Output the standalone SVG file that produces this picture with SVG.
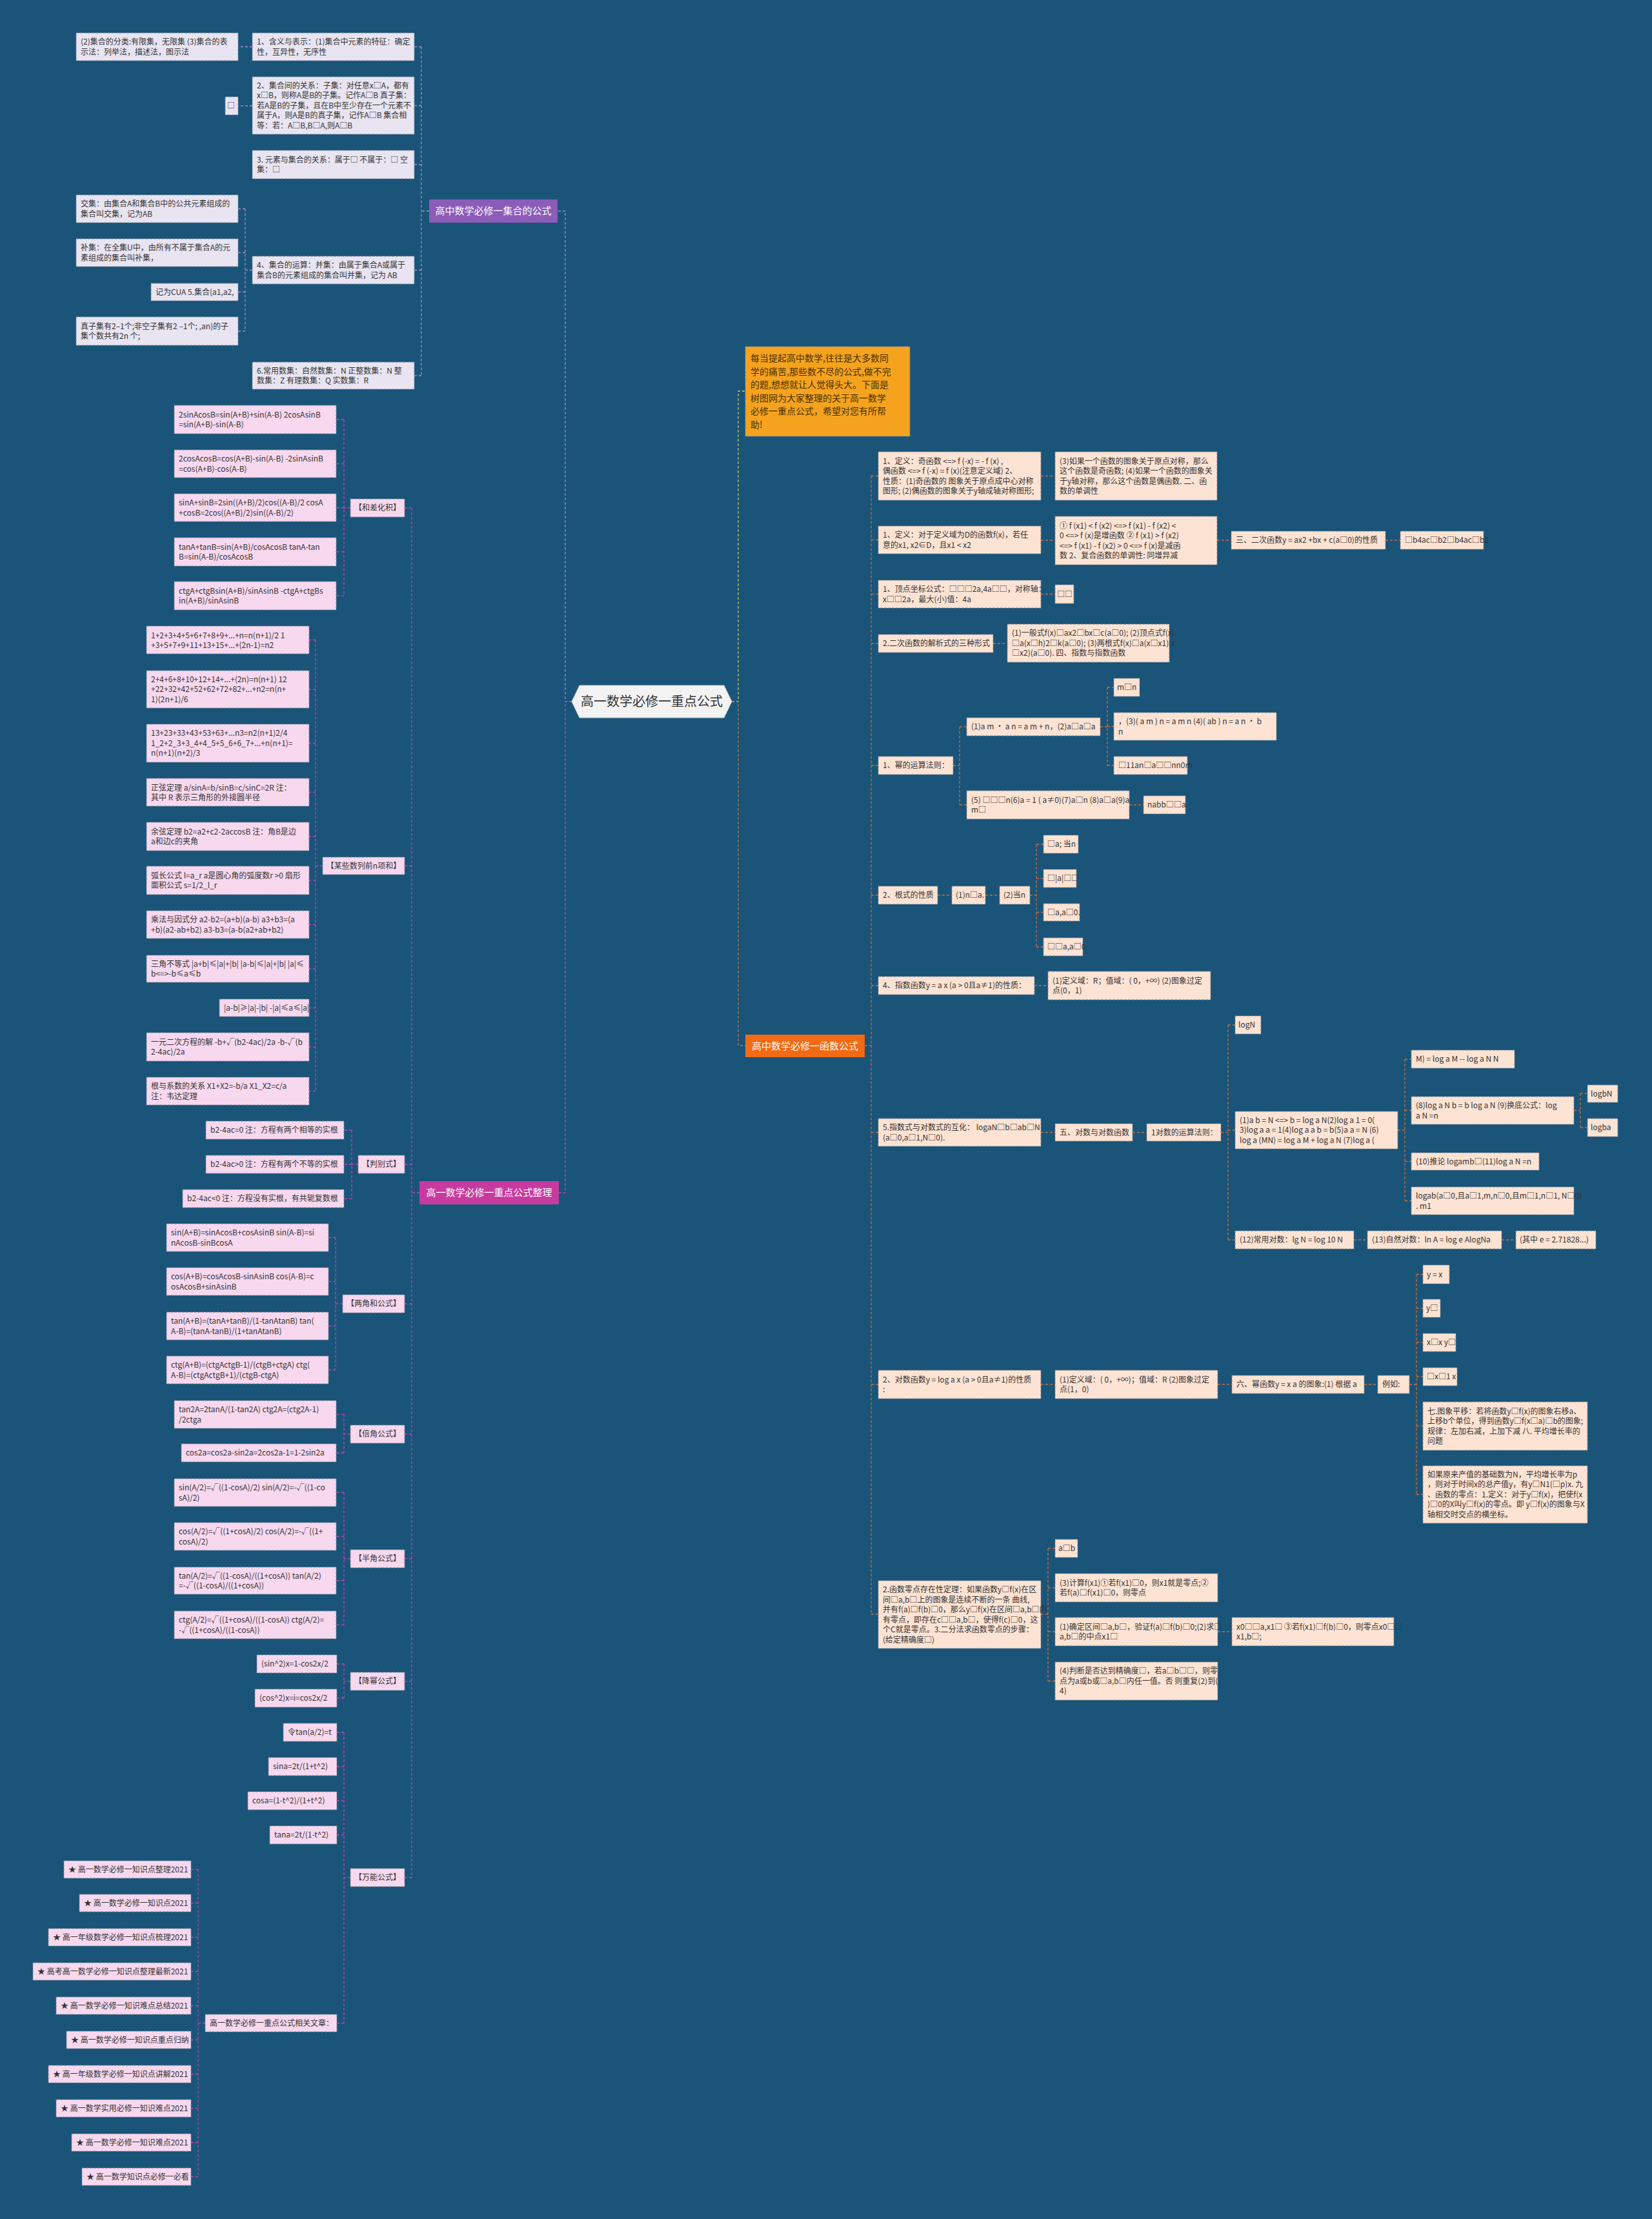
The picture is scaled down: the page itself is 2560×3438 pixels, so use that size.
<svg xmlns="http://www.w3.org/2000/svg" width="2560" height="3438" viewBox="0 0 2560 3438">
<style>
text{font-family:"Noto Sans CJK SC","Noto Sans",sans-serif;font-size:12px;fill:#333}
.bx{stroke:#7d8796;stroke-width:1;stroke-dasharray:4 2}
.b1{fill:#e8e4f1}
.b2{fill:#f7d8ee}
.b3{fill:#fde3d3}
.w{fill:#fff;font-size:15px;text-anchor:middle}
.c{text-anchor:middle}
.cn{fill:none;stroke-width:1.3;stroke-dasharray:4 3}
.cs{stroke:#a98bd3}
.cm{stroke:#c93fae}
.cf{stroke:#c8703c}
.ci{stroke:#d9c24a}
</style>
<rect width="2560" height="3438" fill="#1a5479"/>

<g id="connectors">
<path class="cn ci" d="M1134 1087H1144V606H1155"/>
<path class="cn cf" d="M1134 1087H1144V1620H1155"/>
<path class="cn cf" d="M1340 1620H1350M1350 737.5V2501M1350 737.5H1361M1350 836.5H1361M1350 920.5H1361M1350 997H1361M1350 1186H1361M1350 1387H1361M1350 1527H1361M1350 1754.5H1361M1350 2145H1361M1350 2501H1361"/>
<path class="cn cf" d="M1613 737.5H1635M1613 837H1635M1886 837H1908M2147 837H2170M1613 920.5H1635M1539 997H1561"/>
<path class="cn cf" d="M1477 1186H1487M1487 1126V1247M1487 1126H1498M1487 1247H1498M1705 1126H1716M1716 1065V1186M1716 1065H1726M1716 1125.5H1726M1716 1186H1726M1750 1247H1772"/>
<path class="cn cf" d="M1453 1387H1475M1527 1387H1549M1596 1387H1606M1606 1308V1467M1606 1308H1617M1606 1361H1617M1606 1413.5H1617M1606 1467H1617M1603 1527H1624"/>
<path class="cn cf" d="M1613 1754.5H1635M1755 1754.5H1777M1892 1754.5H1903M1903 1588V1921M1903 1588H1914M1903 1751H1914M1903 1921H1914M2166 1751H2177M2177 1641V1860.5M2177 1641H2187M2177 1720.5H2187M2177 1799.5H2187M2177 1860.5H2187M2439 1720.5H2449M2449 1694V1747M2449 1694H2460M2449 1747H2460M2098 1921H2119M2327 1921H2349"/>
<path class="cn cf" d="M1613 2145H1635M1887 2145H1909M2114 2145H2135M2184 2145H2195M2195 1974.5V2315.5M2195 1974.5H2205M2195 2027H2205M2195 2080H2205M2195 2133H2205M2195 2209.5H2205M2195 2315.5H2205"/>
<path class="cn cf" d="M1613 2501H1624M1624 2399V2604.5M1624 2399H1635M1624 2460H1635M1624 2528H1635M1624 2604.5H1635M1887 2528H1909"/>
<path class="cn cs" d="M886 1087H876V327H864M665 327H653M653 72.5V582M653 72.5H642M653 163.5H642M653 255H642M653 418.5H642M653 582H642M391 72.5H369M391 164H369M391 418.5H380M380 323.5V513M380 323.5H369M380 391.5H369M380 452.5H369M380 513H369"/>
<path class="cn cm" d="M886 1087H876V1848H866M650 1848H638M638 787V2909M638 787H627M638 1341.5H627M638 1804H627M638 2020H627M638 2222H627M638 2415H627M638 2605H627M638 2909H627"/>
<path class="cn cm" d="M543 787H533M533 650V923M533 650H521M533 718.5H521M533 786.5H521M533 855H521M533 923H521"/>
<path class="cn cm" d="M500 1341.5H489M489 991.5V1690.5M489 991.5H479M489 1068H479M489 1151.5H479M489 1227.5H479M489 1296H479M489 1364H479M489 1432.5H479M489 1501H479M489 1561.5H479M489 1622H479M489 1690.5H479"/>
<path class="cn cm" d="M555 1804H545M545 1751V1857M545 1751H533M545 1804H533M545 1857H533M531 2020H520M520 1917.5V2122.5M520 1917.5H509M520 1985.5H509M520 2054.5H509M520 2122.5H509"/>
<path class="cn cm" d="M543 2222H533M533 2191.5V2251M533 2191.5H521M533 2251H521M543 2415H533M533 2312.5V2517.5M533 2312.5H521M533 2380.5H521M533 2449H521M533 2517.5H521M543 2605H533M533 2578V2631M533 2578H522M533 2631H522"/>
<path class="cn cm" d="M543 2909H533M533 2684V3134.5M533 2684H522M533 2737H522M533 2790H522M533 2843H522M533 3134.5H522M318 3134.5H307M307 2896.5V3372.5M307 2896.5H296M307 2948.5H296M307 3001.5H296M307 3054.5H296M307 3107.5H296M307 3160.5H296M307 3213.5H296M307 3266.5H296M307 3319.5H296M307 3372.5H296"/>
</g>

<g id="center">
<polygon points="898,1062 1122,1062 1134,1087 1122,1112 898,1112 886,1087" fill="#f3f3f3" stroke="#cfcfcf"/>
<text x="1010" y="1094" class="c" style="font-size:20px">高一数学必修一重点公式</text>
</g>

<g id="set-branch">
<g id="set-root"><rect x="665" y="309" width="199" height="36" fill="#8c5cb8"/><text x="764.5" y="332" class="w">高中数学必修一集合的公式</text></g>
<g id="s1"><rect class="bx b1" x="391" y="51" width="251" height="43"/><text x="398" y="69"><tspan x="398">1、含义与表示：(1)集合中元素的特征：确定</tspan><tspan x="398" dy="15.5">性，互异性，无序性</tspan></text></g>
<g id="s1c"><rect class="bx b1" x="118" y="51" width="251" height="43"/><text x="125" y="69"><tspan x="125">(2)集合的分类:有限集，无限集 (3)集合的表</tspan><tspan x="125" dy="15.5">示法：列举法，描述法，图示法</tspan></text></g>
<g id="s2"><rect class="bx b1" x="391" y="119" width="251" height="89"/><text x="398" y="136.75"><tspan x="398">2、集合间的关系：子集：对任意x□A，都有</tspan><tspan x="398" dy="15.5">x□B，则称A是B的子集。记作A□B 真子集：</tspan><tspan x="398" dy="15.5">若A是B的子集，且在B中至少存在一个元素不</tspan><tspan x="398" dy="15.5">属于A，则A是B的真子集，记作A□B 集合相</tspan><tspan x="398" dy="15.5">等：若：A□B,B□A,则A□B</tspan></text></g>
<g id="s2c"><rect class="bx b1" x="349" y="150" width="20" height="28"/><text x="352" y="168.25">□</text></g>
<g id="s3"><rect class="bx b1" x="391" y="233" width="251" height="44"/><text x="398" y="251.5"><tspan x="398">3. 元素与集合的关系：属于□ 不属于：□ 空</tspan><tspan x="398" dy="15.5">集：□</tspan></text></g>
<g id="s4"><rect class="bx b1" x="391" y="397" width="251" height="43"/><text x="398" y="415"><tspan x="398">4、集合的运算：并集：由属于集合A或属于</tspan><tspan x="398" dy="15.5">集合B的元素组成的集合叫并集，记为 AB</tspan></text></g>
<g id="s4a"><rect class="bx b1" x="118" y="302" width="251" height="43"/><text x="125" y="320"><tspan x="125">交集：由集合A和集合B中的公共元素组成的</tspan><tspan x="125" dy="15.5">集合叫交集，记为AB</tspan></text></g>
<g id="s4b"><rect class="bx b1" x="118" y="370" width="251" height="43"/><text x="125" y="388"><tspan x="125">补集：在全集U中，由所有不属于集合A的元</tspan><tspan x="125" dy="15.5">素组成的集合叫补集，</tspan></text></g>
<g id="s4c"><rect class="bx b1" x="234" y="439" width="135" height="27"/><text x="241" y="456.75">记为CUA 5.集合{a1,a2,</text></g>
<g id="s4d"><rect class="bx b1" x="118" y="491" width="251" height="44"/><text x="125" y="509.5"><tspan x="125">真子集有2–1个;非空子集有2 –1个; ,an}的子</tspan><tspan x="125" dy="15.5">集个数共有2n 个;</tspan></text></g>
<g id="s6"><rect class="bx b1" x="391" y="561" width="251" height="42"/><text x="398" y="578.5"><tspan x="398">6.常用数集：自然数集：N 正整数集：N 整</tspan><tspan x="398" dy="15.5">数集：Z 有理数集：Q 实数集：R</tspan></text></g>
</g>

<g id="formula-branch">
<g id="f-root"><rect x="650" y="1830" width="216" height="36" fill="#c73b9f"/><text x="758" y="1853" class="w">高一数学必修一重点公式整理</text></g>
<g id="c-hcz"><rect class="bx b2" x="543" y="773" width="84" height="28"/><text x="585" y="791.25" class="c">【和差化积】</text></g>
<g id="h1"><rect class="bx b2" x="270" y="628" width="251" height="44"/><text x="277" y="646.5"><tspan x="277">2sinAcosB=sin(A+B)+sin(A-B) 2cosAsinB</tspan><tspan x="277" dy="15.5">=sin(A+B)-sin(A-B)</tspan></text></g>
<g id="h2"><rect class="bx b2" x="270" y="697" width="251" height="43"/><text x="277" y="715"><tspan x="277">2cosAcosB=cos(A+B)-sin(A-B) -2sinAsinB</tspan><tspan x="277" dy="15.5">=cos(A+B)-cos(A-B)</tspan></text></g>
<g id="h3"><rect class="bx b2" x="270" y="765" width="251" height="43"/><text x="277" y="783"><tspan x="277">sinA+sinB=2sin((A+B)/2)cos((A-B)/2 cosA</tspan><tspan x="277" dy="15.5">+cosB=2cos((A+B)/2)sin((A-B)/2)</tspan></text></g>
<g id="h4"><rect class="bx b2" x="270" y="833" width="251" height="44"/><text x="277" y="851.5"><tspan x="277">tanA+tanB=sin(A+B)/cosAcosB tanA-tan</tspan><tspan x="277" dy="15.5">B=sin(A-B)/cosAcosB</tspan></text></g>
<g id="h5"><rect class="bx b2" x="270" y="901" width="251" height="44"/><text x="277" y="919.5"><tspan x="277">ctgA+ctgBsin(A+B)/sinAsinB -ctgA+ctgBs</tspan><tspan x="277" dy="15.5">in(A+B)/sinAsinB</tspan></text></g>

<g id="c-sl"><rect class="bx b2" x="500" y="1328" width="127" height="27"/><text x="563.5" y="1345.75" class="c">【某些数列前n项和】</text></g>
<g id="q1"><rect class="bx b2" x="227" y="970" width="252" height="43"/><text x="234" y="988.5"><tspan x="234">1+2+3+4+5+6+7+8+9+...+n=n(n+1)/2 1</tspan><tspan x="234" dy="15.5">+3+5+7+9+11+13+15+...+(2n-1)=n2</tspan></text></g>
<g id="q2"><rect class="bx b2" x="227" y="1039" width="252" height="58"/><text x="234" y="1056.75"><tspan x="234">2+4+6+8+10+12+14+...+(2n)=n(n+1) 12</tspan><tspan x="234" dy="15.5">+22+32+42+52+62+72+82+...+n2=n(n+</tspan><tspan x="234" dy="15.5">1)(2n+1)/6</tspan></text></g>
<g id="q3"><rect class="bx b2" x="227" y="1122" width="252" height="59"/><text x="234" y="1140.25"><tspan x="234">13+23+33+43+53+63+...n3=n2(n+1)2/4</tspan><tspan x="234" dy="15.5">1_2+2_3+3_4+4_5+5_6+6_7+...+n(n+1)=</tspan><tspan x="234" dy="15.5">n(n+1)(n+2)/3</tspan></text></g>
<g id="q4"><rect class="bx b2" x="227" y="1206" width="252" height="43"/><text x="234" y="1224.5"><tspan x="234">正弦定理 a/sinA=b/sinB=c/sinC=2R 注：</tspan><tspan x="234" dy="15.5">其中 R 表示三角形的外接圆半径</tspan></text></g>
<g id="q5"><rect class="bx b2" x="227" y="1274" width="252" height="44"/><text x="234" y="1292.5"><tspan x="234">余弦定理 b2=a2+c2-2accosB 注：角B是边</tspan><tspan x="234" dy="15.5">a和边c的夹角</tspan></text></g>
<g id="q6"><rect class="bx b2" x="227" y="1342" width="252" height="44"/><text x="234" y="1360.5"><tspan x="234">弧长公式 l=a_r a是圆心角的弧度数r &gt;0 扇形</tspan><tspan x="234" dy="15.5">面积公式 s=1/2_l_r</tspan></text></g>
<g id="q7"><rect class="bx b2" x="227" y="1411" width="252" height="43"/><text x="234" y="1429"><tspan x="234">乘法与因式分 a2-b2=(a+b)(a-b) a3+b3=(a</tspan><tspan x="234" dy="15.5">+b)(a2-ab+b2) a3-b3=(a-b(a2+ab+b2)</tspan></text></g>
<g id="q8"><rect class="bx b2" x="227" y="1480" width="252" height="42"/><text x="234" y="1497.5"><tspan x="234">三角不等式 |a+b|≤|a|+|b| |a-b|≤|a|+|b| |a|≤</tspan><tspan x="234" dy="15.5">b&lt;=&gt;-b≤a≤b</tspan></text></g>
<g id="q9"><rect class="bx b2" x="340" y="1548" width="139" height="27"/><text x="347" y="1565.75">|a-b|≥|a|-|b| -|a|≤a≤|a|</text></g>
<g id="q10"><rect class="bx b2" x="227" y="1600" width="252" height="44"/><text x="234" y="1618.5"><tspan x="234">一元二次方程的解 -b+√(b2-4ac)/2a -b-√(b</tspan><tspan x="234" dy="15.5">2-4ac)/2a</tspan></text></g>
<g id="q11"><rect class="bx b2" x="227" y="1669" width="252" height="43"/><text x="234" y="1687"><tspan x="234">根与系数的关系 X1+X2=-b/a X1_X2=c/a</tspan><tspan x="234" dy="15.5">注：韦达定理</tspan></text></g>

<g id="c-pbs"><rect class="bx b2" x="555" y="1790" width="72" height="28"/><text x="591" y="1808.25" class="c">【判别式】</text></g>
<g id="d1"><rect class="bx b2" x="319" y="1737" width="214" height="28"/><text x="326" y="1755.25">b2-4ac=0 注：方程有两个相等的实根</text></g>
<g id="d2"><rect class="bx b2" x="319" y="1790" width="214" height="28"/><text x="326" y="1808.25">b2-4ac&gt;0 注：方程有两个不等的实根</text></g>
<g id="d3"><rect class="bx b2" x="283" y="1843" width="250" height="28"/><text x="290" y="1861.25">b2-4ac&lt;0 注：方程没有实根，有共轭复数根</text></g>

<g id="c-ljh"><rect class="bx b2" x="531" y="2006" width="96" height="28"/><text x="579" y="2024.25" class="c">【两角和公式】</text></g>
<g id="l1"><rect class="bx b2" x="258" y="1896" width="251" height="43"/><text x="265" y="1914"><tspan x="265">sin(A+B)=sinAcosB+cosAsinB sin(A-B)=si</tspan><tspan x="265" dy="15.5">nAcosB-sinBcosA</tspan></text></g>
<g id="l2"><rect class="bx b2" x="258" y="1964" width="251" height="43"/><text x="265" y="1982"><tspan x="265">cos(A+B)=cosAcosB-sinAsinB cos(A-B)=c</tspan><tspan x="265" dy="15.5">osAcosB+sinAsinB</tspan></text></g>
<g id="l3"><rect class="bx b2" x="258" y="2033" width="251" height="43"/><text x="265" y="2051"><tspan x="265">tan(A+B)=(tanA+tanB)/(1-tanAtanB) tan(</tspan><tspan x="265" dy="15.5">A-B)=(tanA-tanB)/(1+tanAtanB)</tspan></text></g>
<g id="l4"><rect class="bx b2" x="258" y="2101" width="251" height="43"/><text x="265" y="2119"><tspan x="265">ctg(A+B)=(ctgActgB-1)/(ctgB+ctgA) ctg(</tspan><tspan x="265" dy="15.5">A-B)=(ctgActgB+1)/(ctgB-ctgA)</tspan></text></g>

<g id="c-bj"><rect class="bx b2" x="543" y="2208" width="84" height="28"/><text x="585" y="2226.25" class="c">【倍角公式】</text></g>
<g id="bj1"><rect class="bx b2" x="270" y="2170" width="251" height="43"/><text x="277" y="2188"><tspan x="277">tan2A=2tanA/(1-tan2A) ctg2A=(ctg2A-1)</tspan><tspan x="277" dy="15.5">/2ctga</tspan></text></g>
<g id="bj2"><rect class="bx b2" x="281" y="2237" width="240" height="28"/><text x="288" y="2255.25">cos2a=cos2a-sin2a=2cos2a-1=1-2sin2a</text></g>

<g id="c-banj"><rect class="bx b2" x="543" y="2401" width="84" height="28"/><text x="585" y="2419.25" class="c">【半角公式】</text></g>
<g id="ba1"><rect class="bx b2" x="270" y="2291" width="251" height="43"/><text x="277" y="2309"><tspan x="277">sin(A/2)=√((1-cosA)/2) sin(A/2)=-√((1-co</tspan><tspan x="277" dy="15.5">sA)/2)</tspan></text></g>
<g id="ba2"><rect class="bx b2" x="270" y="2359" width="251" height="43"/><text x="277" y="2377"><tspan x="277">cos(A/2)=√((1+cosA)/2) cos(A/2)=-√((1+</tspan><tspan x="277" dy="15.5">cosA)/2)</tspan></text></g>
<g id="ba3"><rect class="bx b2" x="270" y="2428" width="251" height="42"/><text x="277" y="2445.5"><tspan x="277">tan(A/2)=√((1-cosA)/((1+cosA)) tan(A/2)</tspan><tspan x="277" dy="15.5">=-√((1-cosA)/((1+cosA))</tspan></text></g>
<g id="ba4"><rect class="bx b2" x="270" y="2496" width="251" height="43"/><text x="277" y="2514"><tspan x="277">ctg(A/2)=√((1+cosA)/((1-cosA)) ctg(A/2)=</tspan><tspan x="277" dy="15.5">-√((1+cosA)/((1-cosA))</tspan></text></g>

<g id="c-jm"><rect class="bx b2" x="543" y="2591" width="84" height="28"/><text x="585" y="2609.25" class="c">【降幂公式】</text></g>
<g id="jm1"><rect class="bx b2" x="398" y="2564" width="124" height="28"/><text x="405" y="2582.25">(sin^2)x=1-cos2x/2</text></g>
<g id="jm2"><rect class="bx b2" x="395" y="2617" width="127" height="28"/><text x="402" y="2635.25">(cos^2)x=i=cos2x/2</text></g>

<g id="c-wn"><rect class="bx b2" x="543" y="2895" width="84" height="28"/><text x="585" y="2913.25" class="c">【万能公式】</text></g>
<g id="wn1"><rect class="bx b2" x="439" y="2670" width="83" height="28"/><text x="446" y="2688.25">令tan(a/2)=t</text></g>
<g id="wn2"><rect class="bx b2" x="416" y="2723" width="106" height="28"/><text x="423" y="2741.25">sina=2t/(1+t^2)</text></g>
<g id="wn3"><rect class="bx b2" x="384" y="2776" width="138" height="28"/><text x="391" y="2794.25">cosa=(1-t^2)/(1+t^2)</text></g>
<g id="wn4"><rect class="bx b2" x="418" y="2829" width="104" height="28"/><text x="425" y="2847.25">tana=2t/(1-t^2)</text></g>
<g id="wn5"><rect class="bx b2" x="318" y="3121" width="204" height="27"/><text x="325" y="3138.75">高一数学必修一重点公式相关文章：</text></g>
<g id="a1"><rect class="bx b2" x="99" y="2883" width="197" height="27"/><text x="106" y="2900.75">★ 高一数学必修一知识点整理2021</text></g>
<g id="a2"><rect class="bx b2" x="123" y="2935" width="173" height="27"/><text x="130" y="2952.75">★ 高一数学必修一知识点2021</text></g>
<g id="a3"><rect class="bx b2" x="75" y="2988" width="221" height="27"/><text x="82" y="3005.75">★ 高一年级数学必修一知识点梳理2021</text></g>
<g id="a4"><rect class="bx b2" x="51" y="3041" width="245" height="27"/><text x="58" y="3058.75">★ 高考高一数学必修一知识点整理最新2021</text></g>
<g id="a5"><rect class="bx b2" x="87" y="3094" width="209" height="27"/><text x="94" y="3111.75">★ 高一数学必修一知识难点总结2021</text></g>
<g id="a6"><rect class="bx b2" x="103" y="3147" width="193" height="27"/><text x="110" y="3164.75">★ 高一数学必修一知识点重点归纳</text></g>
<g id="a7"><rect class="bx b2" x="75" y="3200" width="221" height="27"/><text x="82" y="3217.75">★ 高一年级数学必修一知识点讲解2021</text></g>
<g id="a8"><rect class="bx b2" x="87" y="3253" width="209" height="27"/><text x="94" y="3270.75">★ 高一数学实用必修一知识难点2021</text></g>
<g id="a9"><rect class="bx b2" x="111" y="3306" width="185" height="27"/><text x="118" y="3323.75">★ 高一数学必修一知识难点2021</text></g>
<g id="a10"><rect class="bx b2" x="127" y="3359" width="169" height="27"/><text x="134" y="3376.75">★ 高一数学知识点必修一必看</text></g>
</g>

<g id="function-branch">
<g id="intro"><rect x="1155" y="537" width="255" height="139" fill="#f5a31e" class="bx"/><text style="font-size:14px;fill:#4a3000" x="1163" y="560"><tspan x="1163">每当提起高中数学,往往是大多数同</tspan><tspan x="1163" dy="20.6">学的痛苦,那些数不尽的公式,做不完</tspan><tspan x="1163" dy="20.6">的题,想想就让人觉得头大。下面是</tspan><tspan x="1163" dy="20.6">树图网为大家整理的关于高一数学</tspan><tspan x="1163" dy="20.6">必修一重点公式，希望对您有所帮</tspan><tspan x="1163" dy="20.6">助!</tspan></text></g>
<g id="fn-root"><rect x="1155" y="1603" width="185" height="35" fill="#f26a14"/><text x="1247.5" y="1625.5" class="w">高中数学必修一函数公式</text></g>
<g id="fa"><rect class="bx b3" x="1361" y="700" width="252" height="75"/><text x="1368" y="718.5"><tspan x="1368">1、定义：奇函数 &lt;=&gt; f (-x) = - f (x) ,</tspan><tspan x="1368" dy="15.5">偶函数 &lt;=&gt; f (-x) = f (x)(注意定义域) 2、</tspan><tspan x="1368" dy="15.5">性质：(1)奇函数的 图象关于原点成中心对称</tspan><tspan x="1368" dy="15.5">图形; (2)偶函数的图象关于y轴成轴对称图形;</tspan></text></g>
<g id="fb"><rect class="bx b3" x="1635" y="700" width="251" height="75"/><text x="1642" y="718.5"><tspan x="1642">(3)如果一个函数的图象关于原点对称，那么</tspan><tspan x="1642" dy="15.5">这个函数是奇函数; (4)如果一个函数的图象关</tspan><tspan x="1642" dy="15.5">于y轴对称，那么这个函数是偶函数. 二、函</tspan><tspan x="1642" dy="15.5">数的单调性</tspan></text></g>
<g id="fc"><rect class="bx b3" x="1361" y="815" width="252" height="43"/><text x="1368" y="833"><tspan x="1368">1、定义：对于定义域为D的函数f(x)，若任</tspan><tspan x="1368" dy="15.5">意的x1, x2∈D，且x1 &lt; x2</tspan></text></g>
<g id="fd"><rect class="bx b3" x="1635" y="800" width="251" height="75"/><text x="1642" y="818.5"><tspan x="1642">① f (x1) &lt; f (x2) &lt;=&gt; f (x1) - f (x2) &lt;</tspan><tspan x="1642" dy="15.5">0 &lt;=&gt; f (x)是增函数 ② f (x1) &gt; f (x2)</tspan><tspan x="1642" dy="15.5">&lt;=&gt; f (x1) - f (x2) &gt; 0 &lt;=&gt; f (x)是减函</tspan><tspan x="1642" dy="15.5">数 2、复合函数的单调性: 同增异减</tspan></text></g>
<g id="fe"><rect class="bx b3" x="1908" y="823" width="239" height="28"/><text x="1915" y="841.25">三、二次函数y = ax2 +bx + c(a□0)的性质</text></g>
<g id="ff"><rect class="bx b3" x="2170" y="823" width="129" height="28"/><text x="2177" y="841.25">□b4ac□b2□b4ac□b2</text></g>
<g id="fg"><rect class="bx b3" x="1361" y="899" width="252" height="43"/><text x="1368" y="917"><tspan x="1368">1、顶点坐标公式：□□□2a,4a□□，对称轴：</tspan><tspan x="1368" dy="15.5">x□□2a，最大(小)值：4a</tspan></text></g>
<g id="fh"><rect class="bx b3" x="1635" y="906" width="29" height="29"/><text x="1638" y="924.75">□□</text></g>
<g id="fi"><rect class="bx b3" x="1361" y="983" width="178" height="28"/><text x="1368" y="1001.25">2.二次函数的解析式的三种形式</text></g>
<g id="fj"><rect class="bx b3" x="1561" y="967" width="251" height="59"/><text x="1568" y="985.25"><tspan x="1568">(1)一般式f(x)□ax2□bx□c(a□0); (2)顶点式f(x)</tspan><tspan x="1568" dy="15.5">□a(x□h)2□k(a□0); (3)两根式f(x)□a(x□x1)(x</tspan><tspan x="1568" dy="15.5">□x2)(a□0). 四、指数与指数函数</tspan></text></g>
<g id="fk"><rect class="bx b3" x="1361" y="1172" width="116" height="28"/><text x="1368" y="1190.25">1、幂的运算法则：</text></g>
<g id="fk1"><rect class="bx b3" x="1498" y="1112" width="207" height="28"/><text x="1505" y="1130.25">(1)a m • a n = a m + n，(2)a□a□a</text></g>
<g id="fk1a"><rect class="bx b3" x="1726" y="1051" width="40" height="28"/><text x="1731" y="1069.25">m□n</text></g>
<g id="fk1b"><rect class="bx b3" x="1726" y="1104" width="252" height="43"/><text x="1733" y="1122"><tspan x="1733">，(3)( a m ) n = a m n (4)( ab ) n = a n • b</tspan><tspan x="1733" dy="15.5">n</tspan></text></g>
<g id="fk1c"><rect class="bx b3" x="1726" y="1172" width="114" height="28"/><text x="1733" y="1190.25">□11an□a□□nn0m</text></g>
<g id="fk2"><rect class="bx b3" x="1498" y="1225" width="252" height="44"/><text x="1505" y="1243.5"><tspan x="1505">(5) □□□n(6)a = 1 ( a≠0)(7)a□n (8)a□a(9)a</tspan><tspan x="1505" dy="15.5">m□</tspan></text></g>
<g id="fk2a"><rect class="bx b3" x="1772" y="1233" width="65" height="28"/><text x="1778" y="1251.25">nabb□□a</text></g>
<g id="fl"><rect class="bx b3" x="1361" y="1373" width="92" height="28"/><text x="1368" y="1391.25">2、根式的性质</text></g>
<g id="fl1"><rect class="bx b3" x="1475" y="1373" width="52" height="28"/><text x="1481" y="1391.25">(1)n□a.</text></g>
<g id="fl2"><rect class="bx b3" x="1549" y="1373" width="47" height="28"/><text x="1555" y="1391.25">(2)当n</text></g>
<g id="fla"><rect class="bx b3" x="1617" y="1294" width="54" height="28"/><text x="1623" y="1312.25">□a; 当n</text></g>
<g id="flb"><rect class="bx b3" x="1617" y="1347" width="51" height="28"/><text x="1623" y="1365.25">□|a|□□</text></g>
<g id="flc"><rect class="bx b3" x="1617" y="1400" width="56" height="27"/><text x="1623" y="1417.75">□a,a□0.</text></g>
<g id="fld"><rect class="bx b3" x="1617" y="1453" width="61" height="28"/><text x="1623" y="1471.25">□□a,a□0</text></g>
<g id="fm"><rect class="bx b3" x="1361" y="1513" width="242" height="28"/><text x="1368" y="1531.25">4、指数函数y = a x (a &gt; 0且a≠1)的性质：</text></g>
<g id="fm1"><rect class="bx b3" x="1624" y="1505" width="252" height="44"/><text x="1631" y="1523.5"><tspan x="1631">(1)定义域：R；值域：( 0，+∞) (2)图象过定</tspan><tspan x="1631" dy="15.5">点(0，1)</tspan></text></g>
<g id="fn"><rect class="bx b3" x="1361" y="1733" width="252" height="43"/><text x="1368" y="1751"><tspan x="1368">5.指数式与对数式的互化： logaN□b□ab□N</tspan><tspan x="1368" dy="15.5">(a□0,a□1,N□0).</tspan></text></g>
<g id="fn1"><rect class="bx b3" x="1635" y="1741" width="120" height="27"/><text x="1642" y="1758.75">五、对数与对数函数</text></g>
<g id="fn2"><rect class="bx b3" x="1777" y="1741" width="115" height="27"/><text x="1784" y="1758.75">1对数的运算法则：</text></g>
<g id="fn-logn"><rect class="bx b3" x="1914" y="1574" width="40" height="28"/><text x="1919" y="1592.25">logN</text></g>
<g id="fn3"><rect class="bx b3" x="1914" y="1722" width="252" height="58"/><text x="1921" y="1739.75"><tspan x="1921">(1)a b = N &lt;=&gt; b = log a N(2)log a 1 = 0(</tspan><tspan x="1921" dy="15.5">3)log a a = 1(4)log a a b = b(5)a a = N (6)</tspan><tspan x="1921" dy="15.5">log a (MN) = log a M + log a N (7)log a (</tspan></text></g>
<g id="fq1"><rect class="bx b3" x="2187" y="1627" width="160" height="28"/><text x="2194" y="1645.25">M) = log a M -- log a N N</text></g>
<g id="fq2"><rect class="bx b3" x="2187" y="1699" width="252" height="43"/><text x="2194" y="1717"><tspan x="2194">(8)log a N b = b log a N (9)换底公式：log</tspan><tspan x="2194" dy="15.5">a N =n</tspan></text></g>
<g id="fq2a"><rect class="bx b3" x="2460" y="1681" width="47" height="27"/><text x="2465" y="1698.75">logbN</text></g>
<g id="fq2b"><rect class="bx b3" x="2460" y="1733" width="47" height="28"/><text x="2465" y="1751.25">logba</text></g>
<g id="fq3"><rect class="bx b3" x="2187" y="1786" width="198" height="27"/><text x="2194" y="1803.75">(10)推论 logamb□(11)log a N =n</text></g>
<g id="fq4"><rect class="bx b3" x="2187" y="1839" width="252" height="43"/><text x="2194" y="1857"><tspan x="2194">logab(a□0,且a□1,m,n□0,且m□1,n□1, N□0)</tspan><tspan x="2194" dy="15.5">. m1</tspan></text></g>
<g id="fn4"><rect class="bx b3" x="1914" y="1907" width="184" height="28"/><text x="1921" y="1925.25">(12)常用对数：lg N = log 10 N</text></g>
<g id="fn5"><rect class="bx b3" x="2119" y="1907" width="208" height="28"/><text x="2126" y="1925.25">(13)自然对数：ln A = log e AlogNa</text></g>
<g id="fn6"><rect class="bx b3" x="2349" y="1907" width="124" height="28"/><text x="2355" y="1925.25">(其中 e = 2.71828...)</text></g>
<g id="fo"><rect class="bx b3" x="1361" y="2123" width="252" height="44"/><text x="1368" y="2141.5"><tspan x="1368">2、对数函数y = log a x (a &gt; 0且a≠1)的性质</tspan><tspan x="1368" dy="15.5">:</tspan></text></g>
<g id="fo1"><rect class="bx b3" x="1635" y="2123" width="252" height="44"/><text x="1642" y="2141.5"><tspan x="1642">(1)定义域：( 0，+∞)；值域：R (2)图象过定</tspan><tspan x="1642" dy="15.5">点(1，0)</tspan></text></g>
<g id="fo2"><rect class="bx b3" x="1909" y="2131" width="205" height="28"/><text x="1916" y="2149.25">六、幂函数y = x a 的图象:(1) 根据 a</text></g>
<g id="fo3"><rect class="bx b3" x="2135" y="2131" width="49" height="28"/><text x="2142" y="2149.25">例如:</text></g>
<g id="fr1"><rect class="bx b3" x="2205" y="1960" width="41" height="29"/><text x="2211" y="1978.75">y = x</text></g>
<g id="fr2"><rect class="bx b3" x="2205" y="2013" width="27" height="28"/><text x="2210" y="2031.25">y□</text></g>
<g id="fr3"><rect class="bx b3" x="2205" y="2066" width="51" height="28"/><text x="2211" y="2084.25">x□x y□</text></g>
<g id="fr4"><rect class="bx b3" x="2205" y="2119" width="53" height="28"/><text x="2211" y="2137.25">□x□1 x</text></g>
<g id="fr5"><rect class="bx b3" x="2205" y="2172" width="255" height="75"/><text x="2212" y="2190.5"><tspan x="2212">七.图象平移：若将函数y□f(x)的图象右移a、</tspan><tspan x="2212" dy="15.5">上移b个单位，得到函数y□f(x□a)□b的图象;</tspan><tspan x="2212" dy="15.5">规律：左加右减，上加下减 八. 平均增长率的</tspan><tspan x="2212" dy="15.5">问题</tspan></text></g>
<g id="fr6"><rect class="bx b3" x="2205" y="2271" width="255" height="89"/><text x="2212" y="2288.75"><tspan x="2212">如果原来产值的基础数为N，平均增长率为p</tspan><tspan x="2212" dy="15.5">，则对于时间x的总产值y，有y□N1(□p)x. 九</tspan><tspan x="2212" dy="15.5">、函数的零点：1.定义：对于y□f(x)，把使f(x</tspan><tspan x="2212" dy="15.5">)□0的X叫y□f(x)的零点。即 y□f(x)的图象与X</tspan><tspan x="2212" dy="15.5">轴相交时交点的横坐标。</tspan></text></g>
<g id="fp"><rect class="bx b3" x="1361" y="2449" width="252" height="105"/><text x="1368" y="2467"><tspan x="1368">2.函数零点存在性定理：如果函数y□f(x)在区</tspan><tspan x="1368" dy="15.5">间□a,b□上的图象是连续不断的一条 曲线,</tspan><tspan x="1368" dy="15.5">并有f(a)□f(b)□0，那么y□f(x)在区间□a,b□内</tspan><tspan x="1368" dy="15.5">有零点，即存在c□□a,b□，使得f(c)□0，这</tspan><tspan x="1368" dy="15.5">个C就是零点。3.二分法求函数零点的步骤：</tspan><tspan x="1368" dy="15.5">(给定精确度□)</tspan></text></g>
<g id="fp1"><rect class="bx b3" x="1635" y="2385" width="35" height="28"/><text x="1640" y="2403.25">a□b</text></g>
<g id="fp2"><rect class="bx b3" x="1635" y="2438" width="252" height="44"/><text x="1642" y="2456.5"><tspan x="1642">(3)计算f(x1)①若f(x1)□0，则x1就是零点;②</tspan><tspan x="1642" dy="15.5">若f(a)□f(x1)□0，则零点</tspan></text></g>
<g id="fp3"><rect class="bx b3" x="1635" y="2506" width="252" height="44"/><text x="1642" y="2524.5"><tspan x="1642">(1)确定区间□a,b□，验证f(a)□f(b)□0;(2)求□</tspan><tspan x="1642" dy="15.5">a,b□的中点x1□</tspan></text></g>
<g id="fp3a"><rect class="bx b3" x="1909" y="2506" width="251" height="44"/><text x="1916" y="2524.5"><tspan x="1916">x0□□a,x1□ ③若f(x1)□f(b)□0，则零点x0□□</tspan><tspan x="1916" dy="15.5">x1,b□;</tspan></text></g>
<g id="fp4"><rect class="bx b3" x="1635" y="2575" width="252" height="59"/><text x="1642" y="2593.25"><tspan x="1642">(4)判断是否达到精确度□，若a□b□□，则零</tspan><tspan x="1642" dy="15.5">点为a或b或□a,b□内任一值。否 则重复(2)到(</tspan><tspan x="1642" dy="15.5">4)</tspan></text></g>
</g>
</svg>
